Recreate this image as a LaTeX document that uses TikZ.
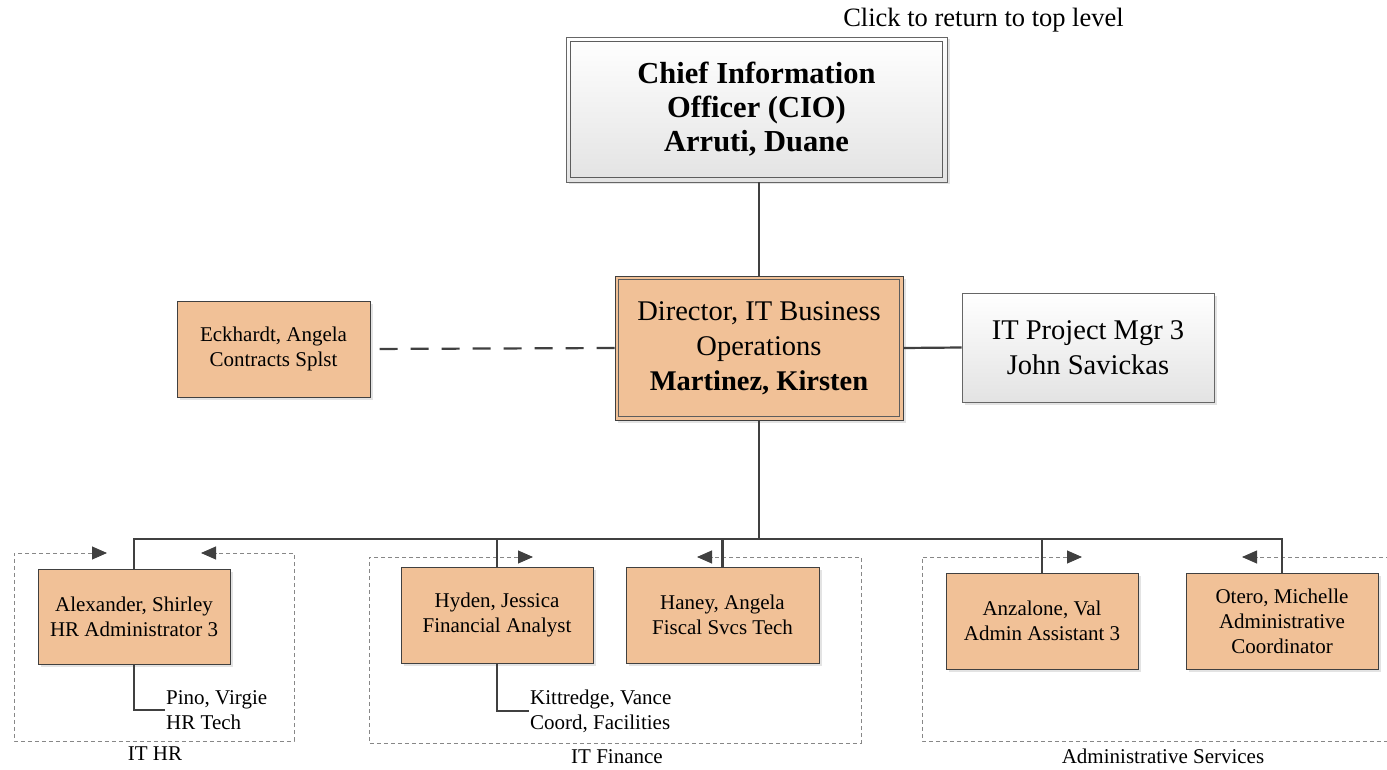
\documentclass[tikz,border=0pt]{standalone}
\usepackage{fontspec}
\setmainfont{Liberation Serif}
\usetikzlibrary{arrows.meta,shadows}
\definecolor{peach}{RGB}{241,193,151}
\definecolor{linec}{RGB}{64,64,64}
\definecolor{framec}{RGB}{135,135,135}
\begin{document}
\begin{tikzpicture}[x=1pt,y=-1pt,
  shad/.style={drop shadow={shadow xshift=2.5pt, shadow yshift=-2.5pt, opacity=0.22}},
  box/.style={draw=linec, line width=0.9pt, fill=peach, align=center, inner sep=0pt, shad},
  graybox/.style={draw=linec!80, line width=0.9pt, top color=white, bottom color=black!11, align=center, inner sep=0pt, shad},
  small/.style={font=\fontsize{21}{25}\selectfont},
  big/.style={font=\fontsize{28.5}{35}\selectfont},
  conn/.style={draw=linec, line width=2.2pt},
  frame/.style={draw=framec, line width=0.9pt, dash pattern=on 4pt off 3pt,
    {Triangle[length=15pt,width=13pt,color=linec]}-{Triangle[length=15pt,width=13pt,color=linec]}},
  lab/.style={font=\fontsize{21}{25}\selectfont, inner sep=0pt}
]
\clip (0,0) rectangle (1387,770);
\fill[white] (0,0) rectangle (1387,770);

% group frames
\draw[frame] (107,553) -- (14,553) -- (14,741) -- (294,741) -- (294,553) -- (201,553);
\draw[frame] (533,557) -- (369,557) -- (369,743) -- (861,743) -- (861,557) -- (697,557);
\draw[frame] (1082,557) -- (922,557) -- (922,741) -- (1400,741) -- (1400,557) -- (1242,557);

% top text
\node[inner sep=0pt, font=\fontsize{26.5}{30}\selectfont] (click) at (983.5,20) {Click to return to top level};

% CIO
\node[graybox, minimum width=381pt, minimum height=145pt, font=\fontsize{30.5}{34}\selectfont\bfseries] (cio) at (756.5,109.5)
  {Chief Information\\Officer (CIO)\\Arruti, Duane};
\draw[linec!85, line width=0.8pt] ([shift={(5pt,-5pt)}]cio.north west) rectangle ([shift={(-5pt,5pt)}]cio.south east);

% Director
\node[box, big, minimum width=288pt, minimum height=144pt] (dir) at (759,348)
  {Director, IT Business\\Operations\\\textbf{Martinez, Kirsten}};
\draw[linec!85, line width=0.7pt] ([shift={(4pt,-4pt)}]dir.north west) rectangle ([shift={(-4pt,4pt)}]dir.south east);

% side boxes
\node[box, small, minimum width=193pt, minimum height=96pt] (eck) at (273.5,349) {Eckhardt, Angela\\Contracts Splst};
\node[graybox, big, minimum width=252pt, minimum height=109pt] (proj) at (1088,347.5) {IT Project Mgr 3\\John Savickas};

% staff boxes
\node[box, small, minimum width=192pt, minimum height=95pt] (alex) at (134,616.5) {Alexander, Shirley\\HR Administrator 3};
\node[box, small, minimum width=192pt, minimum height=96pt] (hyden) at (497,615) {Hyden, Jessica\\Financial Analyst};
\node[box, small, minimum width=193pt, minimum height=96pt] (haney) at (722.5,615) {Haney, Angela\\Fiscal Svcs Tech};
\node[box, small, minimum width=192pt, minimum height=96pt] (anz) at (1042,621) {Anzalone, Val\\Admin Assistant 3};
\node[box, small, minimum width=192pt, minimum height=96pt] (otero) at (1282,621) {Otero, Michelle\\Administrative\\Coordinator};

% sub staff texts
\node[lab, anchor=west, align=left, inner xsep=1pt] (pino) at (165,710) {Pino, Virgie\\HR Tech};
\node[lab, anchor=west, align=left, inner xsep=1pt] (kitt) at (529,711) {Kittredge, Vance\\Coord, Facilities};

% group labels
\node[lab] (lhr) at (155,754) {IT HR};
\node[lab] (lfin) at (617,757) {IT Finance};
\node[lab] (ladm) at (1163,756) {Administrative Services};

% connectors
\coordinate (bus) at (759,539);
\draw[conn] (dir.north) -- (dir.north |- cio.south);
\draw[conn, dash pattern=on 18pt off 13pt] (dir.west) -- (eck.east);
\draw[conn] (dir.east) -- (proj.west);
\draw[conn] (dir.south) -- (bus);
\draw[conn] (alex.north) -- (alex.north |- bus) -- (otero.north |- bus) -- (otero.north);
\draw[conn] (hyden.north) -- (hyden.north |- bus);
\draw[conn] (haney.north) -- (haney.north |- bus);
\draw[conn] (anz.north) -- (anz.north |- bus);
\draw[conn] (alex.south) |- (pino.west);
\draw[conn] (hyden.south) |- (kitt.west);
\end{tikzpicture}
\end{document}
